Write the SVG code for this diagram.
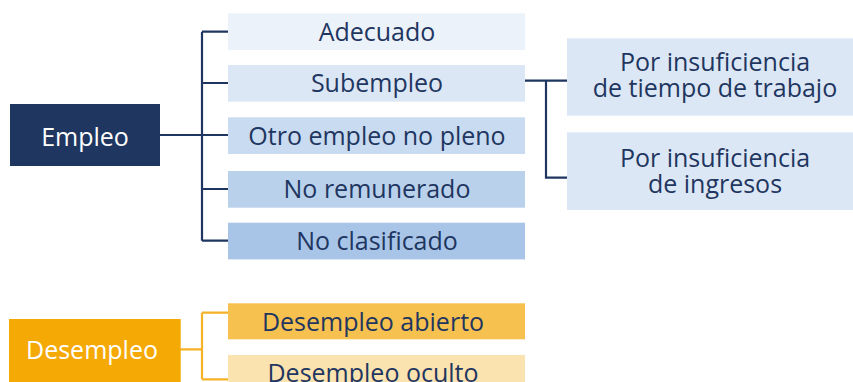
<svg xmlns="http://www.w3.org/2000/svg" width="853" height="382" viewBox="0 0 853 382">
<style>
text{font-family:"Open Sans","Liberation Sans",sans-serif;font-size:25px;text-anchor:middle}
.t{fill:#1f3660}
.w{fill:#ffffff}
.ln{fill:none;stroke:#1f3660;stroke-width:2.2}
.lo{fill:none;stroke:#f5b226;stroke-width:2.2}
</style>
<rect width="853" height="382" fill="#ffffff"/>
<g id="connectors">
<path class="ln" d="M160 135H202M202 31.7V240.7M202 31.7H228M202 83H228M202 135H228M202 189H228M202 240.7H228"/>
<path class="ln" d="M525 80.7H567M546 80.7V177.7H567"/>
<path class="lo" d="M180 349.3H202M202 312.7V379.3M202 312.7H228M202 379.3H228"/>
</g>
<g id="empleo"><rect x="10" y="104" width="150" height="62" fill="#1f3660"/><text class="w" x="85" y="145.5">Empleo</text></g>
<g id="adecuado"><rect x="228" y="13.3" width="297" height="36.7" fill="#ecf2fa"/><text class="t" x="377" y="40.5">Adecuado</text></g>
<g id="subempleo"><rect x="228" y="65" width="297" height="36.7" fill="#dce7f5"/><text class="t" x="377" y="92.2">Subempleo</text></g>
<g id="otro"><rect x="228" y="117.3" width="297" height="36.7" fill="#c9dbf0"/><text class="t" x="377" y="144.5">Otro empleo no pleno</text></g>
<g id="noremunerado"><rect x="228" y="171" width="297" height="36.7" fill="#bad1ec"/><text class="t" x="377" y="198.2">No remunerado</text></g>
<g id="noclasificado"><rect x="228" y="222.7" width="297" height="36.7" fill="#a8c5e8"/><text class="t" x="377" y="249.9">No clasificado</text></g>
<g id="tiempo"><rect x="567" y="38.3" width="286" height="77.4" fill="#dce7f5"/><text class="t" x="715" y="71">Por insuficiencia</text><text class="t" x="715" y="97">de tiempo de trabajo</text></g>
<g id="ingresos"><rect x="567" y="132.3" width="286" height="77.7" fill="#dce7f5"/><text class="t" x="715" y="166.5">Por insuficiencia</text><text class="t" x="715" y="192.5">de ingresos</text></g>
<g id="desempleo"><rect x="9" y="319" width="171.7" height="63" fill="#f5a905"/><text class="w" x="92" y="359.3">Desempleo</text></g>
<g id="abierto"><rect x="228" y="303.3" width="297" height="36" fill="#f7c14f"/><text class="t" x="373" y="330.5">Desempleo abierto</text></g>
<g id="oculto"><rect x="228" y="355" width="297" height="37" fill="#fbe3b0"/><text class="t" x="373" y="382.3">Desempleo oculto</text></g>
</svg>
